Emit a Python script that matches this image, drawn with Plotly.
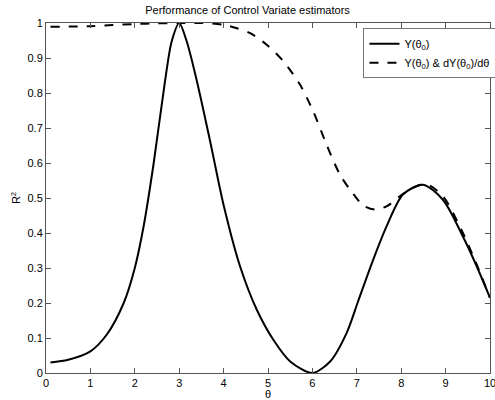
import plotly.graph_objects as go

theta_y = [0.1, 0.5, 1.0, 1.37, 1.75, 2.0, 2.2, 2.42, 2.68, 2.83, 3.0, 3.17, 3.4, 3.7, 4.0,
           4.37, 4.75, 5.12, 5.5, 6.0, 6.4, 6.77, 7.03, 7.37, 7.67, 8.04, 8.49, 8.94, 9.39, 9.7, 10.0]
r2_y = [0.030, 0.038, 0.062, 0.11, 0.20, 0.30, 0.42, 0.595, 0.833, 0.947, 1.0, 0.947, 0.833, 0.66, 0.48,
        0.305, 0.18, 0.095, 0.033, 0.0, 0.033, 0.114, 0.205, 0.324, 0.419, 0.51, 0.538, 0.495, 0.39, 0.305, 0.215]

theta_yd = [0.1, 1.0, 1.5, 2.0, 2.5, 3.0, 3.5, 4.0, 4.3, 4.6, 4.97, 5.35, 5.72, 6.02, 6.32, 6.62, 6.9,
            7.15, 7.4, 7.67, 7.97, 8.2, 8.55, 8.94, 9.39, 9.7, 10.0]
r2_yd = [0.989, 0.991, 0.994, 0.997, 0.999, 1.0, 1.0, 0.995, 0.985, 0.971, 0.938, 0.89, 0.824, 0.747,
         0.652, 0.567, 0.515, 0.478, 0.467, 0.476, 0.505, 0.525, 0.54, 0.505, 0.40, 0.31, 0.215]

x_ticks = list(range(0, 11))
y_ticks = [0, 0.1, 0.2, 0.3, 0.4, 0.5, 0.6, 0.7, 0.8, 0.9, 1]
y_tick_text = ["0", "0.1", "0.2", "0.3", "0.4", "0.5", "0.6", "0.7", "0.8", "0.9", "1"]

fig = go.Figure()
fig.add_trace(go.Scatter(x=theta_y, y=r2_y, mode="lines", name="Y(θ<sub>0</sub>)",
                         line=dict(color="black", width=2, shape="spline", smoothing=0.8)))
fig.add_trace(go.Scatter(x=theta_yd, y=r2_yd, mode="lines", name="Y(θ<sub>0</sub>) & dY(θ<sub>0</sub>)/dθ",
                         line=dict(color="black", width=2, dash="dash", shape="spline", smoothing=0.8)))

axis_common = dict(showline=True, linecolor="#555555", linewidth=1, mirror="ticks",
                   ticks="inside", ticklen=5, tickcolor="#555555", showgrid=False, zeroline=False,
                   automargin=False, ticklabeloverflow="allow",
                   tickfont=dict(family="Liberation Sans, Arial", size=11, color="black"))

fig.update_layout(
    width=495, height=400,
    margin=dict(l=46, r=5, t=23, b=27, autoexpand=False),
    paper_bgcolor="white", plot_bgcolor="white",
    font=dict(family="Liberation Sans, Arial", size=11, color="black"),
    title=dict(text="Performance of Control Variate estimators", x=0.5, xanchor="center",
               y=0.985, yanchor="top", font=dict(size=11)),
    xaxis=dict(range=[0, 10], tickvals=x_ticks, title=dict(text="θ", standoff=2, font=dict(size=11)),
               **axis_common),
    yaxis=dict(range=[0, 1], tickvals=y_ticks, ticktext=y_tick_text,
               title=dict(text="R<sup>2</sup>", standoff=4, font=dict(size=11)), **axis_common),
    legend=dict(x=0.715, y=0.985, xanchor="left", yanchor="top", bordercolor="#777777", borderwidth=1,
                bgcolor="white", font=dict(size=11), tracegroupgap=0),
    showlegend=True,
)

fig.write_html(
    "out.html",
    config={"displayModeBar": False},
    post_script=(
        "document.documentElement.style.margin='0';document.documentElement.style.padding='0';"
        "document.documentElement.style.overflow='hidden';"
        "document.body.style.margin='0';document.body.style.padding='0';document.body.style.overflow='hidden';"
    ),
)
